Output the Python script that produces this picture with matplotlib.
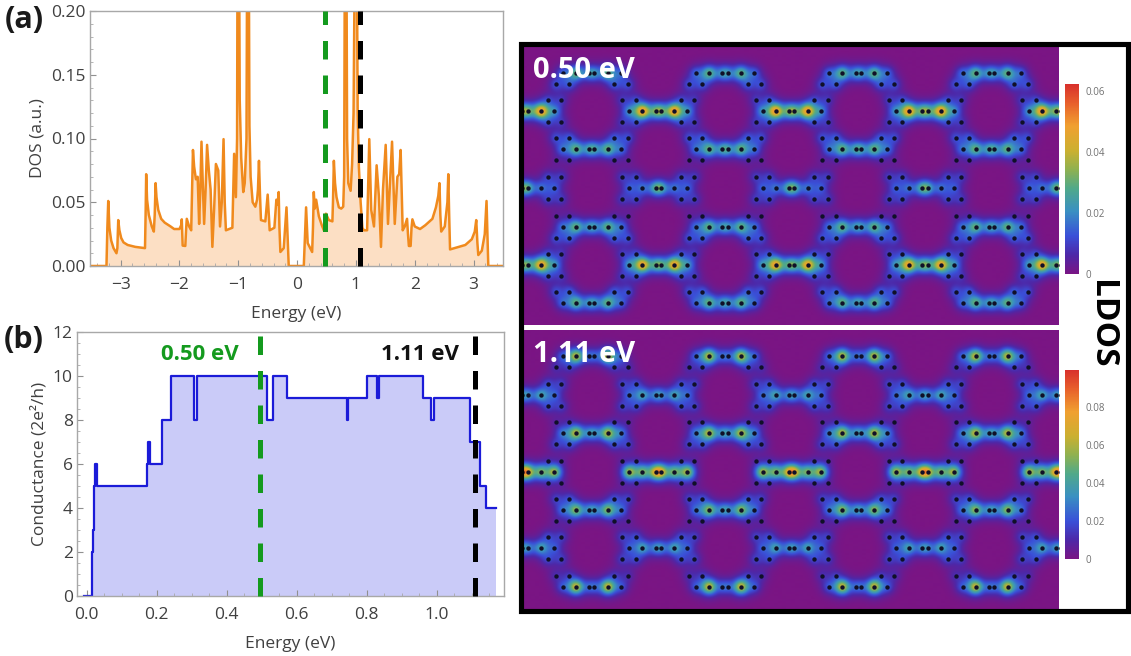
import numpy as np
import matplotlib
matplotlib.use("Agg")
import matplotlib.pyplot as plt
from matplotlib.colors import LinearSegmentedColormap, Normalize
from matplotlib.cm import ScalarMappable
from matplotlib.patches import Rectangle
from matplotlib.ticker import MultipleLocator

plt.rcParams['font.family'] = ['Open Sans', 'DejaVu Sans']

# ---- panel (a) density of states: (energy, DOS)
dos_curve = [(-3.5,0),(-3.24,0),(-3.225,.03),(-3.21,.051),(-3.19,.03),(-3.16,.02),(-3.12,.014),(-3.07,.010),(-3.055,.014),
 (-3.04,.036),(-3.02,.028),(-2.99,.022),(-2.95,.0185),(-2.88,.0165),(-2.75,.015),(-2.585,.014),(-2.575,.04),(-2.565,.072),
 (-2.55,.052),(-2.52,.040),(-2.47,.031),(-2.435,.027),(-2.42,.04),(-2.405,.065),(-2.39,.054),(-2.36,.044),(-2.31,.037),
 (-2.25,.034),(-2.15,.031),(-2.09,.029),(-2.0,.029),(-1.97,.032),(-1.96,.0366),(-1.945,.016),(-1.90,.0157),(-1.885,.03),
 (-1.875,.037),(-1.835,.031),(-1.80,.028),(-1.785,.06),(-1.77,.091),(-1.75,.078),(-1.72,.068),(-1.69,.07),(-1.665,.033),
 (-1.645,.06),(-1.625,.0975),(-1.60,.06),(-1.58,.033),(-1.555,.06),(-1.53,.095),(-1.50,.075),(-1.47,.06),(-1.44,.015),
 (-1.41,.045),(-1.38,.08),(-1.34,.075),(-1.31,.031),(-1.28,.05),(-1.25,.0995),(-1.23,.05),(-1.21,.028),(-1.10,.03),(-1.07,.088),
 (-1.04,.054),(-1.02,.10),(-1.01,.3),(-.99,.3),(-.975,.13),(-.95,.085),(-.915,.058),(-.89,.065),(-.86,.10),(-.845,.3),(-.825,.3),
 (-.81,.11),(-.79,.07),(-.755,.05),(-.71,.0465),(-.68,.052),(-.665,.06),(-.648,.0825),(-.63,.055),(-.614,.036),(-.54,.035),(-.5,.056),
 (-.466,.028),(-.386,.03),(-.352,.052),(-.33,.048),(-.313,.058),(-.30,.03),(-.284,.011),(-.227,.014),(-.18,.046),(-.142,0),
 (.114,0),(.153,.046),(.18,.018),(.256,.011),(.27,.03),(.284,.058),(.30,.045),(.324,.052),(.37,.039),(.42,.032),(.455,.028),(.49,.041),(.54,.036),
 (.60,.035),(.61,.05),(.625,.0825),(.645,.065),(.67,.054),(.71,.046),(.75,.045),(.784,.0465),(.80,.07),(.815,.3),(.835,.3),(.85,.1),(.87,.065),
 (.91,.059),(.935,.08),(.96,.12),(.99,.3),(1.01,.3),(1.03,.12),(1.05,.078),(1.08,.05),(1.11,.03),(1.136,.028),(1.19,.028),(1.227,.0995),
 (1.26,.044),(1.307,.031),(1.352,.079),(1.39,.055),(1.426,.015),(1.46,.06),(1.506,.095),(1.545,.033),(1.614,.0975),(1.66,.033),
 (1.705,.07),(1.735,.072),(1.76,.091),(1.795,.028),(1.83,.031),(1.869,.037),(1.885,.025),(1.9,.0157),(1.93,.0157),(1.945,.03),(1.96,.0366),(2.0,.031),
 (2.09,.029),(2.18,.032),(2.3,.037),(2.36,.046),(2.40,.055),(2.42,.065),(2.435,.04),(2.45,.027),(2.51,.031),(2.555,.05),(2.57,.072),(2.585,.04),(2.6,.013),(2.86,.0165),
 (2.97,.021),(3.02,.027),(3.045,.036),(3.065,.018),(3.08,.0086),(3.14,.012),(3.19,.025),(3.22,.051),(3.25,0),(3.5,0)]
dos_energy = [p[0] for p in dos_curve]
dos_value = [p[1] for p in dos_curve]
dos_xticks = [-3,-2,-1,0,1,2,3]
dos_yticks = [0,0.05,0.10,0.15,0.20]
dos_marks = [0.48, 1.07]

# ---- panel (b) conductance (step edges, value holds to the next edge)
cond_energy = [-0.007,0.0145,0.018,0.02,0.021,0.022,0.029,0.173,0.175,0.18,0.214,0.241,0.306,0.315,0.516,0.533,0.573,
 0.743,0.746,0.801,0.83,0.836,0.961,0.983,0.993,1.095,1.124,1.14,1.17]
cond_value = [0,2,3,4,5,6,5,6,7,6,8,10,8,10,8,10,9,8,9,10,9,10,9,8,9,7,5,4,4]
cond_xticks = [0.0,0.2,0.4,0.6,0.8,1.0]
cond_yticks = [0,2,4,6,8,10,12]
cond_marks = [0.496, 1.108]
cond_labels = ["0.50 eV", "1.11 eV"]

# ---- LDOS maps: rows of atom chains
# each row = (y px, motif family, centre, mid, end weight, side weight above, side weight below)
map1_rows = [(73,'B',.012,.025,.011,0,.009),(111,'A',.018,.043,.015,.006,.006),(149,'B',.014,.025,.012,.009,.002),
             (188,'A',.017,.012,.010,.007,.007),(227,'B',.012,.025,.012,.002,.009),(265,'A',.016,.041,.016,.006,.006),(303,'B',.012,.025,.011,.009,0)]
map2_rows = [(356,'B',.012,.054,.017,0,.008),(395,'A',.018,.031,.017,.012,.012),(433,'B',.018,.052,.021,.004,.012),
             (472,'A',.044,.040,.050,.003,.003),(510,'B',.018,.046,.019,.012,.004),(548,'A',.018,.031,.015,.012,.012),(587,'B',.012,.056,.015,.008,0)]
motif_centres = {'A': [525.0,658.3,791.6,924.9,1058.2], 'B': [458.4,591.7,725.0,858.3,991.6]}
map1_ticks = [0,0.02,0.04,0.06]
map2_ticks = [0,0.02,0.04,0.06,0.08]
map1_vmax = 0.0623
map2_vmax = 0.0997

W, H = 1131, 656
ORANGE, ORANGE_FILL = '#F08A1D', '#FCDFC4'
BLUE, BLUE_FILL = '#1B1BD8', '#CACBF8'
GREEN = '#149A1E'
TEXT = '#404040'

ldos_cmap = LinearSegmentedColormap.from_list('ldos', [
    (0.0,'#7A1584'),(0.10,'#4D28A8'),(0.2,'#3A50D8'),(0.33,'#3A90C2'),(0.45,'#50A98A'),
    (0.55,'#8FB150'),(0.65,'#CBB030'),(0.78,'#F0A030'),(0.9,'#E8602C'),(1.0,'#D8302C')])

fig = plt.figure(figsize=(W/100, H/100), dpi=100)

def box(l, t, r, b):
    return fig.add_axes([l/W, 1-b/H, (r-l)/W, (b-t)/H])

def style(ax):
    for s in ax.spines.values():
        s.set_color('#A8A8A8'); s.set_linewidth(1.0)
    ax.tick_params(which='major', direction='in', length=4, width=0.8, color='#909090',
                   labelsize=12.5, labelcolor=TEXT, pad=8, top=False, right=False)
    ax.tick_params(which='minor', direction='in', length=2, width=0.6, color='#A8A8A8', top=False, right=False)

def vmark(ax, x, color, top):
    ax.plot([x, x], [0, top], color=color, lw=3.6, linestyle=(0, (3.7, 3.2)), dash_capstyle='butt', clip_on=False, zorder=5)

# panel a
axa = box(90, 11, 503, 266)
style(axa)
axa.fill_between(dos_energy, dos_value, 0, color=ORANGE_FILL, lw=0)
axa.plot(dos_energy, dos_value, color=ORANGE, lw=1.8)
axa.set_xlim(-3.52, 3.5); axa.set_ylim(0, 0.2)
axa.set_xticks(dos_xticks); axa.set_xticklabels(['\u2212%d' % -t if t < 0 else str(t) for t in dos_xticks])
axa.set_yticks(dos_yticks); axa.set_yticklabels(['%.2f' % t for t in dos_yticks])
axa.xaxis.set_minor_locator(MultipleLocator(0.2)); axa.yaxis.set_minor_locator(MultipleLocator(0.01))
axa.tick_params(axis='y', pad=3)
axa.set_xlabel('Energy (eV)', fontsize=12.5, color=TEXT, labelpad=9)
axa.set_ylabel('DOS (a.u.)', fontsize=12.5, color=TEXT, labelpad=4)
vmark(axa, dos_marks[0], GREEN, 0.2); vmark(axa, dos_marks[1], 'black', 0.2)

# panel b
axb = box(77, 332, 504, 596)
style(axb)
axb.fill_between(cond_energy, cond_value, 0, step='post', color=BLUE_FILL, lw=0)
axb.step(cond_energy, cond_value, where='post', color=BLUE, lw=1.6)
axb.set_xlim(-0.028, 1.192); axb.set_ylim(0, 12)
axb.set_xticks(cond_xticks); axb.set_xticklabels(['%.1f' % t for t in cond_xticks])
axb.set_yticks(cond_yticks)
axb.xaxis.set_minor_locator(MultipleLocator(0.05)); axb.yaxis.set_minor_locator(MultipleLocator(0.5))
axb.tick_params(axis='y', pad=3)
axb.set_xlabel('Energy (eV)', fontsize=12.5, color=TEXT, labelpad=9)
axb.set_ylabel('Conductance (2e\u00b2/h)', fontsize=12.5, color=TEXT, labelpad=4)
vmark(axb, cond_marks[0], GREEN, 12); vmark(axb, cond_marks[1], 'black', 12)

def ftext(x, y, s, **kw):
    fig.text(x/W, 1-y/H, s, ha=kw.pop('ha','center'), va=kw.pop('va','center'), fontweight='bold', **kw)

ftext(24, 20, '(a)', fontsize=22, color='#1A1A1A')
ftext(24, 340, '(b)', fontsize=22, color='#1A1A1A')
ftext(200, 355, cond_labels[0], fontsize=16, color=GREEN)
ftext(420, 355, cond_labels[1], fontsize=16, color='#111111')

# LDOS maps
def ldos_map(rows, top, bottom, vmax, label, cbox, ticks):
    ax = box(523, top, 1059, bottom)
    xs = np.arange(523, 1059.5, 0.5); ys = np.arange(top, bottom + 0.5, 0.5)
    X, Y = np.meshgrid(xs, ys)
    F = np.zeros_like(X)
    px, py = [], []
    for i, (y, fam, c, m, e, su, sd) in enumerate(rows):
        for cx in motif_centres[fam]:
            atoms = [(d, 0, c) for d in (-2.7, 2.7)] + [(d, 0, m) for d in (-16, 16)] + [(d, 0, e) for d in (-29, 29)]
            if i > 0:
                atoms += [(d, -11.3, su) for d in (-36, -22.7, 22.7, 36)]
            if i < len(rows) - 1:
                atoms += [(d, 11.3, sd) for d in (-36, -22.7, 22.7, 36)]
            for dx, dy, w in atoms:
                r2 = (X-cx-dx)**2 + (Y-y-dy)**2
                F += 0.75*w*np.exp(-r2/(2*4.6**2)) + 0.35*w*np.exp(-r2/(2*7.5**2))
                px.append(cx+dx); py.append(y+dy)
    ax.imshow(F, extent=(523, 1059, bottom, top), cmap=ldos_cmap, vmin=0, vmax=vmax, aspect='auto',
              interpolation='bilinear')
    ax.scatter(px, py, s=10, color='#101028', lw=0, zorder=3)
    ax.set_xlim(523, 1059); ax.set_ylim(bottom, top)
    ax.axis('off')
    ax.text(533, top+25, label, color='white', fontsize=21, fontweight='bold', va='center', ha='left', zorder=6)
    cax = box(*cbox)
    cb = fig.colorbar(ScalarMappable(Normalize(0, vmax), ldos_cmap), cax=cax, ticks=ticks)
    cb.ax.set_yticklabels(['%g' % t for t in ticks])
    cb.ax.tick_params(length=0, labelsize=7, labelcolor='#707070', pad=5)
    cb.outline.set_visible(False)

ldos_map(map1_rows, 46, 325, map1_vmax, '0.50 eV', (1065, 84, 1079, 274), map1_ticks)
ldos_map(map2_rows, 330, 609, map2_vmax, '1.11 eV', (1065, 370, 1079, 559), map2_ticks)

fig.add_artist(Rectangle((520.5/W, 1-611/H), 607/W, 567.5/H, transform=fig.transFigure, fill=False,
                         ec='black', lw=3.7, zorder=10))
ftext(1102, 324, 'LDOS', fontsize=24, rotation=-90, color='black')

fig.savefig('out.png', dpi=100)
